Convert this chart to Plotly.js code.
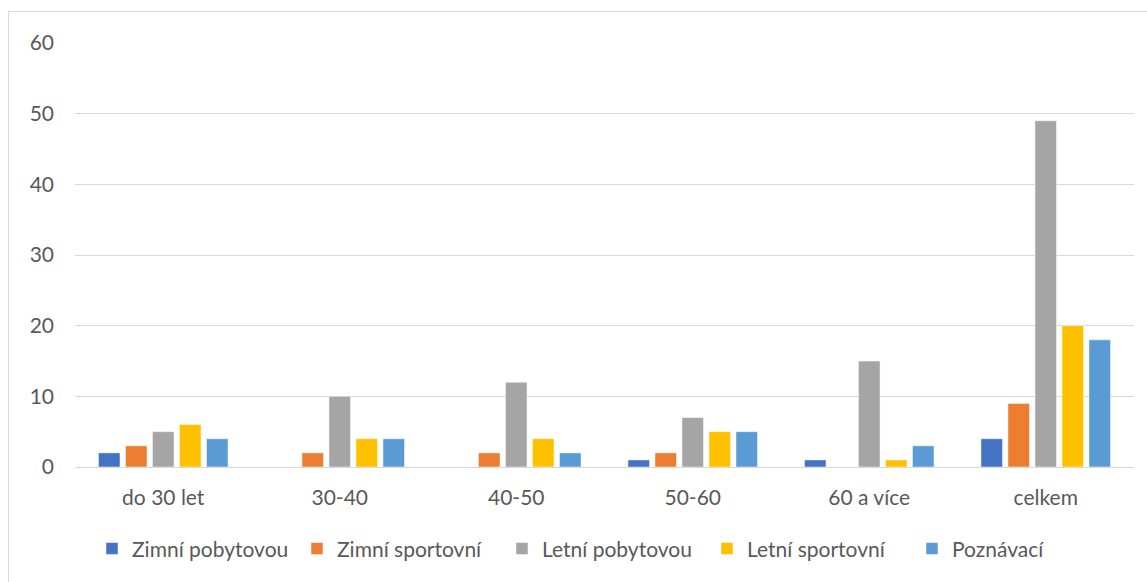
<!DOCTYPE html>
<html>
<head>
<meta charset="utf-8">
<script src="https://cdn.plot.ly/plotly-3.0.1.min.js"></script>
<style>
  html, body { margin: 0; padding: 0; background: #fff; overflow: hidden; }
  #wrap { position: relative; width: 1147px; height: 582px; }
  #chart { position: absolute; left: 0; top: 0; width: 1147px; height: 582px; }
  #frame { position: absolute; left: 8px; top: 11px; width: 1160px; height: 600px; border: 1px solid #D9D9D9; box-sizing: border-box; pointer-events: none; }
</style>
</head>
<body>
<div id="wrap">
  <div id="chart"></div>
  <div id="frame"></div>
</div>
<script>
const categories = ["do 30 let", "30-40", "40-50", "50-60", "60 a více", "celkem"];
const zimniPobytovou = [2, 0, 0, 1, 1, 4];
const zimniSportovni = [3, 2, 2, 2, 0, 9];
const letniPobytovou = [5, 10, 12, 7, 15, 49];
const letniSportovni = [6, 4, 4, 5, 1, 20];
const poznavaci = [4, 4, 2, 5, 3, 18];

const seriesNames = ["Zimní pobytovou", "Zimní sportovní", "Letní pobytovou", "Letní sportovní", "Poznávací"];
const seriesValues = [zimniPobytovou, zimniSportovni, letniPobytovou, letniSportovni, poznavaci];
const seriesColors = ["#4472C4", "#ED7D31", "#A5A5A5", "#FFC000", "#5B9BD5"];

const traces = seriesNames.map((name, i) => ({
  type: "bar",
  name: name,
  x: categories,
  y: seriesValues[i],
  marker: { color: seriesColors[i], line: { color: "rgba(255,255,255,0.5)", width: 1 } },
  hoverinfo: "x+y+name"
}));

const font = { family: "Lato, 'Open Sans', sans-serif", size: 21, color: "#595959" };

const layout = {
  width: 1147,
  height: 582,
  margin: { l: 75, r: 13, t: 43, b: 115, autoexpand: false },
  paper_bgcolor: "rgba(0,0,0,0)",
  plot_bgcolor: "#fff",
  barmode: "group",
  bargap: 0.235,
  bargroupgap: 0.2,
  font: font,
  xaxis: {
    type: "category",
    showgrid: false,
    showline: true,
    linecolor: "#D9D9D9",
    linewidth: 1,
    ticks: "",
    ticklabelstandoff: 12,
    tickfont: font,
    zeroline: false
  },
  yaxis: {
    range: [0, 60],
    dtick: 10,
    showgrid: true,
    gridcolor: "#D9D9D9",
    gridwidth: 1,
    showline: false,
    zeroline: false,
    ticks: "",
    ticklabelstandoff: 20,
    tickfont: font
  },
  legend: {
    orientation: "h",
    x: 0.5,
    xanchor: "center",
    y: -0.193,
    yanchor: "middle",
    font: font,
    itemwidth: 30,
    entrywidth: 160,
    entrywidthmode: "pixels",
    traceorder: "normal"
  },
  showlegend: true
};

Plotly.newPlot("chart", traces, layout, { displayModeBar: false, staticPlot: true });
</script>
</body>
</html>
